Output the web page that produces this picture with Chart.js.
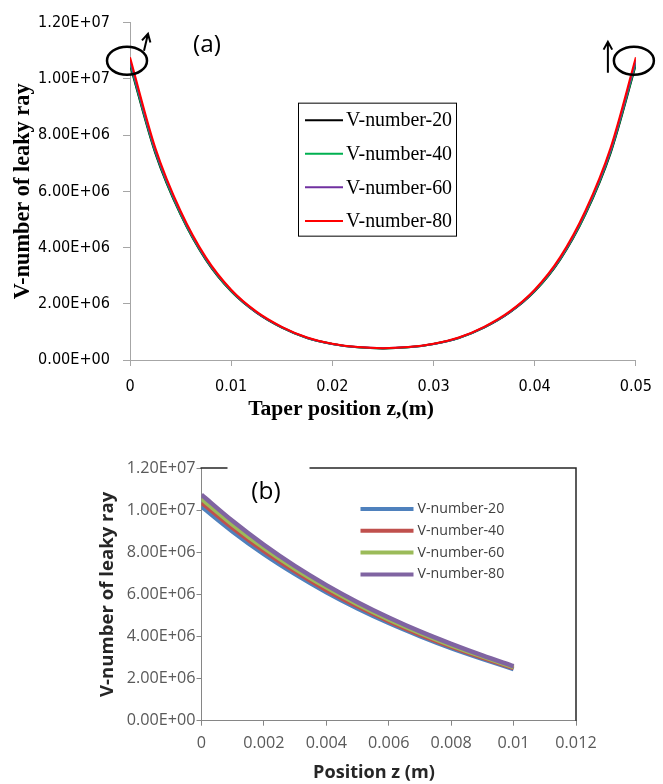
<!DOCTYPE html>
<html>
<head>
<meta charset="utf-8">
<title>V-number of leaky ray</title>
<script src="https://cdn.jsdelivr.net/npm/chart.js@4.4.1/dist/chart.umd.min.js"></script>
<style>
    html, body { margin: 0; padding: 0; background: #fff; }
    #wrap { position: relative; width: 663px; height: 784px; overflow: hidden; }
    #chartA { position: absolute; left: 0; top: 0; }
    #chartB { position: absolute; left: 0; top: 430px; }
</style>
</head>
<body>
<div id="wrap">
    <canvas id="chartA" width="663" height="430"></canvas>
    <canvas id="chartB" width="663" height="354"></canvas>
</div>
<script>
// ---- (a) whole taper, 0 .. 0.05 m
const zA = [0, 0.0025, 0.005, 0.0075, 0.01, 0.0125, 0.015, 0.0175, 0.02, 0.0225, 0.025,
            0.0275, 0.03, 0.0325, 0.035, 0.0375, 0.04, 0.0425, 0.045, 0.0475, 0.05];
const v20A = [10.50e6, 7.36e6, 5.17e6, 3.56e6, 2.44e6, 1.68e6, 1.15e6, 0.78e6, 0.57e6, 0.45e6, 0.41e6,
              0.45e6, 0.57e6, 0.78e6, 1.15e6, 1.68e6, 2.44e6, 3.56e6, 5.17e6, 7.36e6, 10.50e6];
const v40A = [10.55e6, 7.40e6, 5.19e6, 3.58e6, 2.45e6, 1.69e6, 1.16e6, 0.78e6, 0.57e6, 0.45e6, 0.41e6,
              0.45e6, 0.57e6, 0.78e6, 1.16e6, 1.69e6, 2.45e6, 3.58e6, 5.19e6, 7.40e6, 10.55e6];
const v60A = [10.66e6, 7.47e6, 5.25e6, 3.61e6, 2.48e6, 1.70e6, 1.17e6, 0.79e6, 0.57e6, 0.46e6, 0.42e6,
              0.46e6, 0.57e6, 0.79e6, 1.17e6, 1.70e6, 2.48e6, 3.61e6, 5.25e6, 7.47e6, 10.66e6];
const v80A = [10.77e6, 7.55e6, 5.30e6, 3.65e6, 2.50e6, 1.72e6, 1.18e6, 0.80e6, 0.58e6, 0.46e6, 0.42e6,
              0.46e6, 0.58e6, 0.80e6, 1.18e6, 1.72e6, 2.50e6, 3.65e6, 5.30e6, 7.55e6, 10.77e6];
const colorsA = ['#000000', '#00b050', '#7030a0', '#ff0000'];
const xTicksA = [0, 0.01, 0.02, 0.03, 0.04, 0.05];
const xLabelsA = ['0', '0.01', '0.02', '0.03', '0.04', '0.05'];

// ---- (b) first 0.01 m
const zB = [0, 0.001, 0.002, 0.003, 0.004, 0.005, 0.006, 0.007, 0.008, 0.009, 0.01];
const v20B = [10.17e6, 8.98e6, 7.91e6, 6.96e6, 6.10e6, 5.33e6, 4.64e6, 4.02e6, 3.45e6, 2.94e6, 2.45e6];
const v40B = [10.36e6, 9.15e6, 8.06e6, 7.09e6, 6.21e6, 5.43e6, 4.73e6, 4.09e6, 3.52e6, 2.99e6, 2.50e6];
const v60B = [10.54e6, 9.31e6, 8.20e6, 7.21e6, 6.33e6, 5.53e6, 4.81e6, 4.17e6, 3.58e6, 3.05e6, 2.54e6];
const v80B = [10.73e6, 9.48e6, 8.35e6, 7.34e6, 6.44e6, 5.63e6, 4.90e6, 4.24e6, 3.65e6, 3.10e6, 2.59e6];
const colorsB = ['#4f81bd', '#c0504d', '#9bbb59', '#8064a2'];
const xTicksB = [0, 0.002, 0.004, 0.006, 0.008, 0.01, 0.012];
const xLabelsB = ['0', '0.002', '0.004', '0.006', '0.008', '0.01', '0.012'];

const seriesNames = ['V-number-20', 'V-number-40', 'V-number-60', 'V-number-80'];
const yTicks = [0, 2e6, 4e6, 6e6, 8e6, 10e6, 12e6];

// 1.2e7 -> "1.20E+07"
function sci(v) {
    const parts = Number(v).toExponential(2).split('e');
    const e = parseInt(parts[1], 10);
    return parts[0] + 'E' + (e < 0 ? '-' : '+') + String(Math.abs(e)).padStart(2, '0');
}

// pick a font size so that `text` comes out `target` px wide in whatever face is installed
const measureCtx = document.createElement('canvas').getContext('2d');
function fitSize(text, family, weight, target) {
    measureCtx.font = weight + ' 20px ' + family;
    return Math.round(20 * target / measureCtx.measureText(text).width * 10) / 10;
}

const serifA = '"Liberation Serif", "Times New Roman", serif';
const tickFontA = '"Liberation Sans Narrow", "DejaVu Sans Condensed", "Liberation Sans", sans-serif';
const sansB = '"Open Sans", "Noto Sans", sans-serif';

const tickSizeA = fitSize('1.20E+07', tickFontA, 'normal', 72);
const xTitleSizeA = fitSize('Taper position z,(m)', serifA, 'bold', 186);
const yTitleSizeA = fitSize('V-number of leaky ray', serifA, 'bold', 216);
const legendSizeA = fitSize('V-number-20', serifA, 'normal', 106);
const tickSizeB = fitSize('1.20E+07', sansB, 'normal', 69);
const xTitleSizeB = fitSize('Position z (m)', sansB, 'bold', 122);
const yTitleSizeB = fitSize('V-number of leaky ray', sansB, 'bold', 205);
const legendSizeB = fitSize('V-number-20', sansB, 'normal', 87);
const tagSize = fitSize('(a)', sansB, 'normal', 28);

function buildSets(z, arrays, colors, width) {
    return seriesNames.map((name, i) => ({
        label: name,
        data: z.map((zz, j) => ({ x: zz, y: arrays[i][j] })),
        borderColor: colors[i],
        backgroundColor: colors[i],
        borderWidth: width,
        pointRadius: 0,
        fill: false,
        cubicInterpolationMode: 'monotone',
        order: 3 - i   // last series drawn on top, like the original
    }));
}

// legend box, ellipses, arrows and x title of panel (a)
const panelA = {
    id: 'panelA',
    afterDatasetsDraw(chart) {
        const { ctx, chartArea, scales: { x, y } } = chart;
        ctx.save();
        ctx.fillStyle = '#000';
        ctx.font = tagSize + 'px ' + sansB;
        ctx.textAlign = 'center';
        ctx.textBaseline = 'middle';
        ctx.fillText('(a)', chartArea.left + 77, chartArea.top + 22);

        ctx.font = 'bold ' + xTitleSizeA + 'px ' + serifA;
        ctx.fillText('Taper position z,(m)', chartArea.left + 211, chartArea.bottom + 49);

        const last = zA.length - 1;
        const ends = [
            [x.getPixelForValue(zA[0]) - 3, y.getPixelForValue(v80A[0]) + 3.5],
            [x.getPixelForValue(zA[last]) - 2, y.getPixelForValue(v80A[last]) + 3.5]
        ];
        ctx.strokeStyle = '#000';
        ctx.lineWidth = 2.5;
        ends.forEach(([cx, cy]) => {
            ctx.beginPath();
            ctx.ellipse(cx, cy, 20, 14, 0, 0, Math.PI * 2);
            ctx.stroke();
        });

        function arrow(x1, y1, x2, y2) {
            const a = Math.atan2(y2 - y1, x2 - x1);
            ctx.beginPath();
            ctx.moveTo(x1, y1);
            ctx.lineTo(x2, y2);
            ctx.moveTo(x2 - 9 * Math.cos(a - 0.5), y2 - 9 * Math.sin(a - 0.5));
            ctx.lineTo(x2, y2);
            ctx.lineTo(x2 - 9 * Math.cos(a + 0.5), y2 - 9 * Math.sin(a + 0.5));
            ctx.stroke();
        }
        ctx.lineWidth = 2;
        arrow(ends[0][0] + 17, ends[0][1] - 10, ends[0][0] + 21, ends[0][1] - 27);
        arrow(ends[1][0] - 26, ends[1][1] + 12, ends[1][0] - 26, ends[1][1] - 19);

        // legend
        const bx = chartArea.left + 168, by = chartArea.top + 80, bw = 158, bh = 133;
        ctx.fillStyle = '#fff';
        ctx.fillRect(bx, by, bw, bh);
        ctx.lineWidth = 1;
        ctx.strokeStyle = '#000';
        ctx.strokeRect(bx + 0.5, by + 0.5, bw, bh);
        ctx.font = legendSizeA + 'px ' + serifA;
        ctx.textAlign = 'left';
        chart.data.datasets.forEach((ds, i) => {
            const ry = by + 17.5 + i * 33.6;
            ctx.strokeStyle = ds.borderColor;
            ctx.lineWidth = 2;
            ctx.beginPath();
            ctx.moveTo(bx + 7, ry);
            ctx.lineTo(bx + 45, ry);
            ctx.stroke();
            ctx.fillStyle = '#000';
            ctx.fillText(ds.label, bx + 48, ry + 1);
        });
        ctx.restore();
    }
};

// frame, label, legend and x title of panel (b)
const panelB = {
    id: 'panelB',
    afterDraw(chart) {
        const { ctx, chartArea } = chart;
        const { left, right, top, bottom } = chartArea;
        ctx.save();
        ctx.strokeStyle = '#262626';
        ctx.lineWidth = 1.5;
        ctx.beginPath();
        ctx.moveTo(left - 1, top);
        ctx.lineTo(left + 26, top);
        ctx.moveTo(left + 108, top);
        ctx.lineTo(right, top);
        ctx.lineTo(right, bottom);
        ctx.stroke();

        ctx.fillStyle = '#000';
        ctx.font = tagSize + 'px ' + sansB;
        ctx.textAlign = 'center';
        ctx.textBaseline = 'middle';
        ctx.fillText('(b)', left + 64.5, top + 24.5);

        ctx.fillStyle = '#262626';
        ctx.font = 'bold ' + xTitleSizeB + 'px ' + sansB;
        ctx.fillText('Position z (m)', left + 172.5, bottom + 52);

        ctx.font = legendSizeB + 'px ' + sansB;
        ctx.textAlign = 'left';
        chart.data.datasets.forEach((ds, i) => {
            const ry = top + 41 + i * 21.8;
            ctx.strokeStyle = ds.borderColor;
            ctx.lineWidth = 4;
            ctx.beginPath();
            ctx.moveTo(left + 159, ry);
            ctx.lineTo(left + 212, ry);
            ctx.stroke();
            ctx.fillStyle = '#404040';
            ctx.fillText(ds.label, left + 216, ry);
        });
        ctx.restore();
    }
};

new Chart(document.getElementById('chartA'), {
    type: 'line',
    data: { datasets: buildSets(zA, [v20A, v40A, v60A, v80A], colorsA, 2) },
    plugins: [panelA],
    options: {
        responsive: false,
        animation: false,
        layout: { padding: { top: 20, right: 18, left: 0, bottom: 0 } },
        plugins: { legend: { display: false }, tooltip: { enabled: false } },
        scales: {
            x: {
                type: 'linear', min: 0, max: 0.05,
                afterBuildTicks: s => { s.ticks = xTicksA.map(v => ({ value: v })); },
                afterFit: s => { s.height = 70; },
                grid: { drawOnChartArea: false, drawTicks: true, tickLength: 6, tickColor: '#a6a6a6' },
                border: { color: '#a6a6a6', width: 1 },
                ticks: {
                    color: '#000', padding: 11, maxRotation: 0, autoSkip: false,
                    font: { family: tickFontA, size: tickSizeA },
                    callback: (v, i) => xLabelsA[i]
                },
                title: { display: false }
            },
            y: {
                min: 0, max: 1.2e7,
                afterBuildTicks: s => { s.ticks = yTicks.map(v => ({ value: v })); },
                afterFit: s => { s.width = 130; },
                grid: { drawOnChartArea: false, drawTicks: true, tickLength: 7, tickColor: '#a6a6a6' },
                border: { color: '#a6a6a6', width: 1 },
                ticks: {
                    color: '#000', padding: 13,
                    font: { family: tickFontA, size: tickSizeA },
                    callback: v => sci(v)
                },
                title: {
                    display: true, text: 'V-number of leaky ray', color: '#000',
                    font: { family: serifA, size: yTitleSizeA, weight: 'bold' },
                    padding: { top: 10, bottom: 0 }
                }
            }
        }
    }
});

new Chart(document.getElementById('chartB'), {
    type: 'line',
    data: { datasets: buildSets(zB, [v20B, v40B, v60B, v80B], colorsB, 4.5) },
    plugins: [panelB],
    options: {
        responsive: false,
        animation: false,
        layout: { padding: { top: 38, right: 87, left: 97, bottom: 0 } },
        plugins: { legend: { display: false }, tooltip: { enabled: false } },
        scales: {
            x: {
                type: 'linear', min: 0, max: 0.012,
                afterBuildTicks: s => { s.ticks = xTicksB.map(v => ({ value: v })); },
                afterFit: s => { s.height = 63.3; },
                grid: { drawOnChartArea: false, drawTicks: true, tickLength: 5, tickColor: '#868686' },
                border: { color: '#868686', width: 1 },
                ticks: {
                    color: '#595959', padding: 8, maxRotation: 0, autoSkip: false,
                    font: { family: sansB, size: tickSizeB },
                    callback: (v, i) => xLabelsB[i]
                },
                title: { display: false }
            },
            y: {
                min: 0, max: 1.2e7,
                afterBuildTicks: s => { s.ticks = yTicks.map(v => ({ value: v })); },
                afterFit: s => { s.width = 104.5; },
                grid: { drawOnChartArea: false, drawTicks: true, tickLength: 5, tickColor: '#868686' },
                border: { color: '#868686', width: 1 },
                ticks: {
                    color: '#595959', padding: 1,
                    font: { family: sansB, size: tickSizeB },
                    callback: v => sci(v)
                },
                title: {
                    display: true, text: 'V-number of leaky ray', color: '#262626',
                    font: { family: sansB, size: yTitleSizeB, weight: 'bold' },
                    padding: { top: 0, bottom: 0 }
                }
            }
        }
    }
});
</script>
</body>
</html>
